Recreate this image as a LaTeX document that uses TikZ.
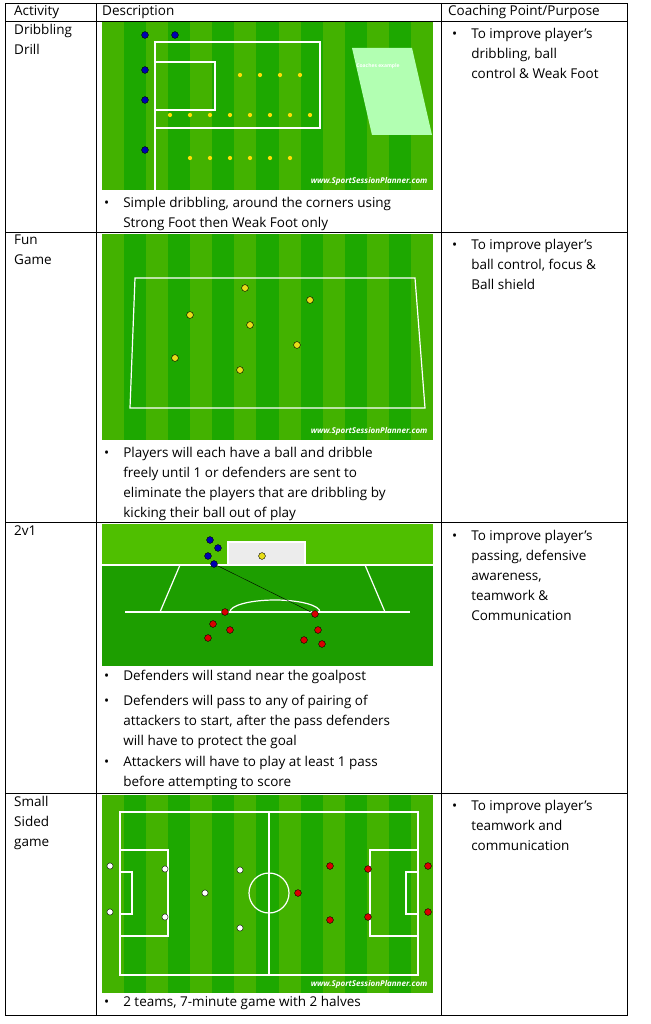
\documentclass[tikz,border=0pt]{standalone}
\usepackage{fontspec}
\setmainfont{Open Sans}
\begin{document}
\begin{tikzpicture}[x=1pt,y=-1pt,
  grid/.style={black,line width=0.8pt},
  txt/.style={anchor=north west,font=\fontsize{13.5}{20}\selectfont,inner sep=0pt,align=left},
  fld/.style={white,line width=1.2pt},
  yel/.style={circle,fill=yellow!90!black,draw=black,inner sep=2.4pt},
  red/.style={circle,fill=red!85!black,draw=black,inner sep=2.4pt},
  blu/.style={circle,fill=blue!70!black,draw=black,inner sep=2.4pt},
  cone/.style={circle,fill=yellow!80!orange,inner sep=1.5pt},
  wm/.style={white,font=\bfseries\itshape\fontsize{8}{9}\selectfont,anchor=south east}]
\useasboundingbox (0,0) rectangle (650,1024);
\fill[white] (0,0) rectangle (650,1024);
\newcommand{\pitch}[4]{%
  \fill[green!60!black!85!lime] (#1,#2) rectangle (#3,#4);
  \foreach \i in {0,2,...,14}{\fill[green!50!lime!70!black] ({#1+(#3-#1)*\i/15},#2) rectangle ({#1+(#3-#1)*(\i+1)/15},#4);}}
% row1 image
\pitch{102}{22}{433}{190}
\draw[fld] (155,42) rectangle (320,128);
\draw[fld] (155,62) rectangle (215,110);
\draw[fld] (155,42) -- (155,190);
\fill[white!70!green] (352,48) -- (412,48) -- (432,135) -- (372,135) -- cycle;
\node[white,font=\bfseries\fontsize{5}{6}\selectfont] (ce) at (378,66) {Coaches example};
\foreach \x in {170,190,...,310}{\node[cone] (c\x) at (\x,115) {};}
\foreach \x in {240,260,...,310}{\node[cone] (d\x) at (\x,75) {};}
\foreach \x in {190,210,...,290}{\node[cone] (e\x) at (\x,158) {};}
\foreach \y [count=\k] in {35,70,100,150}{\node[blu] (b\k) at (145,\y) {};}
\node[blu] (b5) at (175,35) {};
\node[wm] (w1) at (431,189) {www.SportSessionPlanner.com};
% row2 image
\pitch{102}{234}{433}{440}
\draw[fld] (135,278) -- (415,278) -- (425,408) -- (130,408) -- cycle;
\foreach \x/\y [count=\k] in {245/288,190/315,310/300,250/325,175/358,297/345,240/370}{\node[yel] (p\k) at (\x,\y) {};}
\node[wm] (w2) at (431,439) {www.SportSessionPlanner.com};
% row3 image
\fill[green!55!black!85!lime] (102,524) rectangle (433,666);
\fill[green!45!lime!75!black] (102,524) rectangle (433,565);
\draw[fld] (102,565) -- (433,565);
\draw[fld] (125,612) -- (410,612);
\draw[fld] (180,565) -- (160,612);\draw[fld] (365,565) -- (385,612);
\draw[fld] (230,612) arc[start angle=180,end angle=360,x radius=45,y radius=12];
\draw[white,line width=2pt,fill=white!85!gray] (228,542) rectangle (305,565);
\node[yel] (gk) at (262,556) {};
\foreach \x/\y [count=\k] in {210/540,218/548,208/556,214/564}{\node[blu] (q\k) at (\x,\y) {};}
\foreach \x/\y [count=\k] in {225/612,213/624,208/638,230/630,315/614,318/630,304/640,322/644}{\node[red] (r\k) at (\x,\y) {};}
\draw[black] (q4) -- (r5);
% row4 image
\pitch{102}{795}{433}{993}
\draw[fld] (120,812) rectangle (418,975);
\draw[fld] (269,812) -- (269,975);
\draw[fld] (269,893) circle (20);
\draw[fld] (120,850) rectangle (168,936);\draw[fld] (120,872) rectangle (132,914);
\draw[fld] (370,850) rectangle (418,936);\draw[fld] (406,872) rectangle (418,914);
\foreach \x/\y [count=\k] in {110/866,110/912,165/869,165/917,205/893,240/870,240/928}{\node[circle,fill=white,draw=black,inner sep=2.2pt] (s\k) at (\x,\y) {};}
\foreach \x/\y [count=\k] in {428/866,428/912,368/869,368/917,298/893,330/866,330/920}{\node[red] (t\k) at (\x,\y) {};}
\node[wm] (w4) at (431,992) {www.SportSessionPlanner.com};
% grid
\draw[grid] (5,3) rectangle (627,1015);
\draw[grid] (96,3) -- (96,1015);
\draw[grid] (441,3) -- (441,1015);
\foreach \y in {21,232,522,793}{\draw[grid] (5,\y) -- (627,\y);}
% header
\node[txt] (h1) at (14,5) {Activity};
\node[txt] (h2) at (102,5) {Description};
\node[txt] (h3) at (448,5) {Coaching Point/Purpose};
% col1
\node[txt] (a1) at (14,24) {Dribbling\\Drill};
\node[txt] (a2) at (14,235) {Fun\\Game};
\node[txt] (a3) at (14,526) {2v1};
\node[txt] (a4) at (14,796) {Small\\Sided\\game};
% col3
\node[txt] (k1) at (452,24) {•\hspace{14pt}\begin{tabular}[t]{@{}l@{}}To improve player’s\\dribbling, ball\\control \& Weak Foot\end{tabular}};
\node[txt] (k2) at (452,235) {•\hspace{14pt}\begin{tabular}[t]{@{}l@{}}To improve player’s\\ball control, focus \&\\Ball shield\end{tabular}};
\node[txt] (k3) at (452,526) {•\hspace{14pt}\begin{tabular}[t]{@{}l@{}}To improve player’s\\passing, defensive\\awareness,\\teamwork \&\\Communication\end{tabular}};
\node[txt] (k4) at (452,796) {•\hspace{14pt}\begin{tabular}[t]{@{}l@{}}To improve player’s\\teamwork and\\communication\end{tabular}};
% descriptions
\node[txt] (d1) at (104,193) {•\hspace{14pt}\begin{tabular}[t]{@{}l@{}}Simple dribbling, around the corners using\\Strong Foot then Weak Foot only\end{tabular}};
\node[txt] (d2) at (104,443) {•\hspace{14pt}\begin{tabular}[t]{@{}l@{}}Players will each have a ball and dribble\\freely until 1 or defenders are sent to\\eliminate the players that are dribbling by\\kicking their ball out of play\end{tabular}};
\node[txt] (d3) at (104,670) {•\hspace{14pt}Defenders will stand near the goalpost};
\node[txt] (d4) at (104,691) {•\hspace{14pt}\begin{tabular}[t]{@{}l@{}}Defenders will pass to any of pairing of\\attackers to start, after the pass defenders\\will have to protect the goal\end{tabular}};
\node[txt] (d5) at (104,752) {•\hspace{14pt}\begin{tabular}[t]{@{}l@{}}Attackers will have to play at least 1 pass\\before attempting to score\end{tabular}};
\node[txt] (d6) at (104,996) {•\hspace{14pt}2 teams, 7-minute game with 2 halves};
\end{tikzpicture}
\end{document}
